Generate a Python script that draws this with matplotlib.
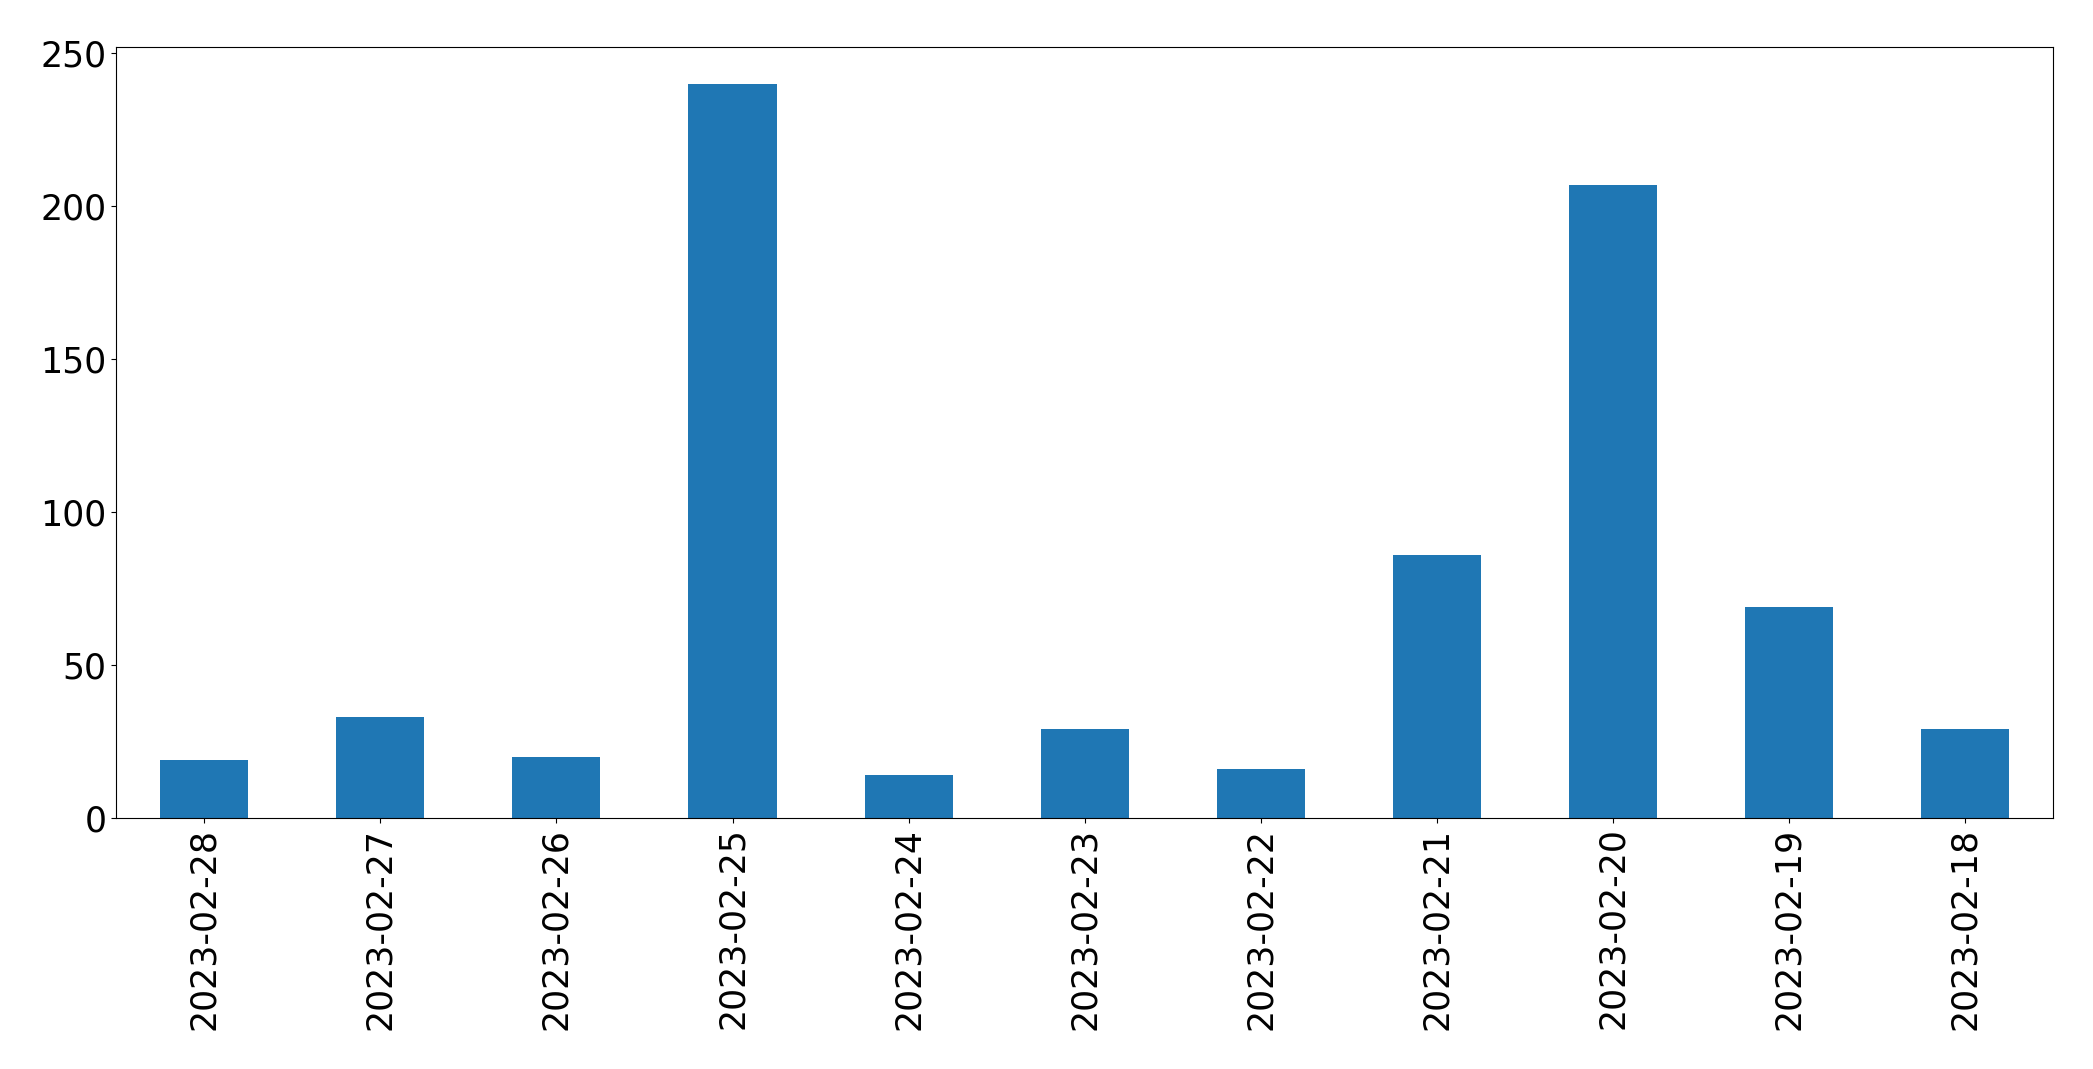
import matplotlib
matplotlib.use("Agg")
import matplotlib.pyplot as plt
import pandas as pd

dates = ["2023-02-28", "2023-02-27", "2023-02-26", "2023-02-25", "2023-02-24",
         "2023-02-23", "2023-02-22", "2023-02-21", "2023-02-20", "2023-02-19",
         "2023-02-18"]
counts = [19, 33, 20, 240, 14, 29, 16, 86, 207, 69, 29]

s = pd.Series(counts, index=dates)

fig = plt.figure(figsize=(20.93, 10.69), dpi=100)
ax = fig.add_axes([0.0555, 0.235, 0.9255, 0.721])
s.plot(kind="bar", ax=ax, color="#1f77b4", fontsize=25)
ax.tick_params(axis="x", labelrotation=90)

fig.savefig("out.png", dpi=100)
